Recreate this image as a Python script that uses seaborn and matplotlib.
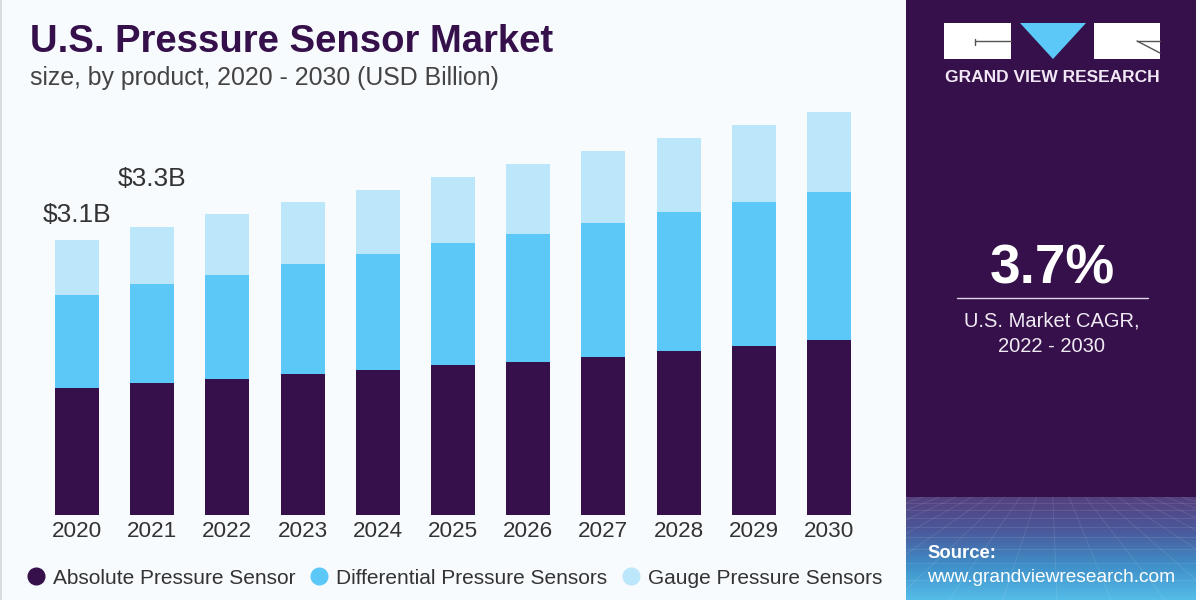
import numpy as np
import pandas as pd
import matplotlib
matplotlib.use('Agg')
import matplotlib.pyplot as plt
import seaborn as sns
from matplotlib.colors import LinearSegmentedColormap
from matplotlib.lines import Line2D
from matplotlib.patches import Polygon, Rectangle

years = ['2020', '2021', '2022', '2023', '2024', '2025', '2026', '2027', '2028', '2029', '2030']
absolute = [1.43, 1.49, 1.53, 1.59, 1.63, 1.69, 1.72, 1.78, 1.85, 1.91, 1.97]
differential = [1.05, 1.12, 1.18, 1.24, 1.31, 1.38, 1.45, 1.51, 1.57, 1.62, 1.67]
gauge = [0.62, 0.64, 0.68, 0.70, 0.73, 0.74, 0.79, 0.81, 0.83, 0.87, 0.90]
series_names = ['Absolute Pressure Sensor', 'Differential Pressure Sensors', 'Gauge Pressure Sensors']
series_colors = ['#35104a', '#5cc8f7', '#bce6fa']
bar_labels = {'2020': '$3.1B', '2021': '$3.3B'}

sns.set_theme(style='white')
plt.rcParams['font.family'] = ['Liberation Sans', 'DejaVu Sans']

BG = '#f7fbfe'
PANEL = '#35104a'
W, H = 1200, 600

fig = plt.figure(figsize=(12, 6), dpi=100, facecolor=BG)

# plot area in pixels: baseline at y=515, first bar centred at x=77
ax = fig.add_axes([39.4 / W, (H - 515) / H, (866.6 - 39.4) / W, 415 / H])
ax.patch.set_alpha(0)

df = pd.DataFrame({'year': years, 'abs': absolute, 'diff': differential, 'gauge': gauge})
bottom = np.zeros(len(df))
for col, color in zip(['abs', 'diff', 'gauge'], series_colors):
    sns.barplot(data=df, x='year', y=col, color=color, width=0.585, bottom=bottom,
                saturation=1, linewidth=0, ax=ax)
    bottom = bottom + df[col].values

ax.set_xlim(-0.5, 10.5)
ax.set_ylim(0, 4.68)
ax.set_xlabel('')
ax.set_ylabel('')
ax.set_yticks([])
sns.despine(ax=ax, left=True, bottom=True)
ax.tick_params(axis='x', length=0, pad=4, labelsize=16.2, labelcolor='#333333')

# labels over the first two bars
totals = dict(zip(years, bottom))
ax.text(0, totals['2020'] + 0.15, bar_labels['2020'], ha='center', va='bottom', fontsize=19, color='#333333')
ax.text(1, totals['2021'] + 0.40, bar_labels['2021'], ha='center', va='bottom', fontsize=19, color='#333333')

handles = [Line2D([], [], ls='', marker='o', ms=12, color=c) for c in series_colors]
ax.legend(handles, series_names, ncols=3, frameon=False, fontsize=15, labelcolor='#333333',
          loc='center left', bbox_to_anchor=(28 / W, 22 / H), bbox_transform=fig.transFigure,
          handlelength=0.8, handletextpad=0.4, columnspacing=0.75, borderaxespad=0, borderpad=0)

# overlay in pixel coordinates for title and side panel
over = fig.add_axes([0, 0, 1, 1], zorder=-1)
over.axis('off')

over.add_patch(Rectangle((0, 0), 2, 600, color='#d9dbdf', lw=0))
over.text(30, 42, 'U.S. Pressure Sensor Market', fontsize=27.5, fontweight='bold', color=PANEL, va='center')
over.text(30, 78, 'size, by product, 2020 - 2030 (USD Billion)', fontsize=17.9, color='#444444', va='center')

over.add_patch(Rectangle((906, 0), 290, 600, color=PANEL, lw=0))
grad = LinearSegmentedColormap.from_list('panel', ['#55407f', '#4a5a9c', '#3f8fc8', '#55bce8'])
over.imshow(np.linspace(0, 1, 103).reshape(-1, 1), cmap=grad, extent=(906, 1196, 600, 497), aspect='auto', zorder=1)

# faint floor grid at the foot of the panel
for yy in [503, 510, 518, 527, 537, 549, 563, 580]:
    over.plot([906, 1196], [yy, yy], color='white', lw=0.5, alpha=0.13, zorder=1.5)
for xx in np.arange(-200, 1400, 90):
    over.plot([1051 + (xx - 600) * 0.18, 1051 + (xx - 600) * 0.6], [497, 600], color='white', lw=0.5, alpha=0.13, zorder=1.5)

over.set_xlim(0, W)
over.set_ylim(H, 0)

# logo
over.add_patch(Rectangle((944, 23), 67, 36, color='white', lw=0, zorder=2))
over.add_patch(Rectangle((1094, 23), 66, 36, color='white', lw=0, zorder=2))
over.add_patch(Polygon([(1020, 23), (1086, 23), (1053, 59)], color='#5cc8f7', lw=0, zorder=2))
over.plot([975, 1011], [41, 41], color='#555555', lw=1, zorder=3)
over.plot([975, 975], [39, 45], color='#555555', lw=1, zorder=3)
over.plot([1137, 1160], [41, 41], color='#555555', lw=1, zorder=3)
over.plot([1137, 1160], [41, 53], color='#555555', lw=1, zorder=3)
over.text(1052, 78, 'GRAND VIEW RESEARCH', fontsize=12.5, fontweight='bold', color='#f2e8f5', ha='center', va='center', zorder=3)

# CAGR callout
over.text(1052, 269, '3.7%', fontsize=39.5, fontweight='bold', color='white', ha='center', va='center', zorder=3)
over.plot([957, 1148], [298, 298], color='#ddd6e3', lw=1, zorder=3)
over.text(1052, 321, 'U.S. Market CAGR,', fontsize=14.5, color='#f0eaf3', ha='center', va='center', zorder=3)
over.text(1052, 347, '2022 - 2030', fontsize=14.5, color='#f0eaf3', ha='center', va='center', zorder=3)

# source
over.text(927, 554, 'Source:', fontsize=13.3, fontweight='bold', color='white', va='center', zorder=3)
over.text(927, 577, 'www.grandviewresearch.com', fontsize=13.8, color='white', va='center', zorder=3)

fig.savefig('out.png', dpi=100, facecolor=BG)
